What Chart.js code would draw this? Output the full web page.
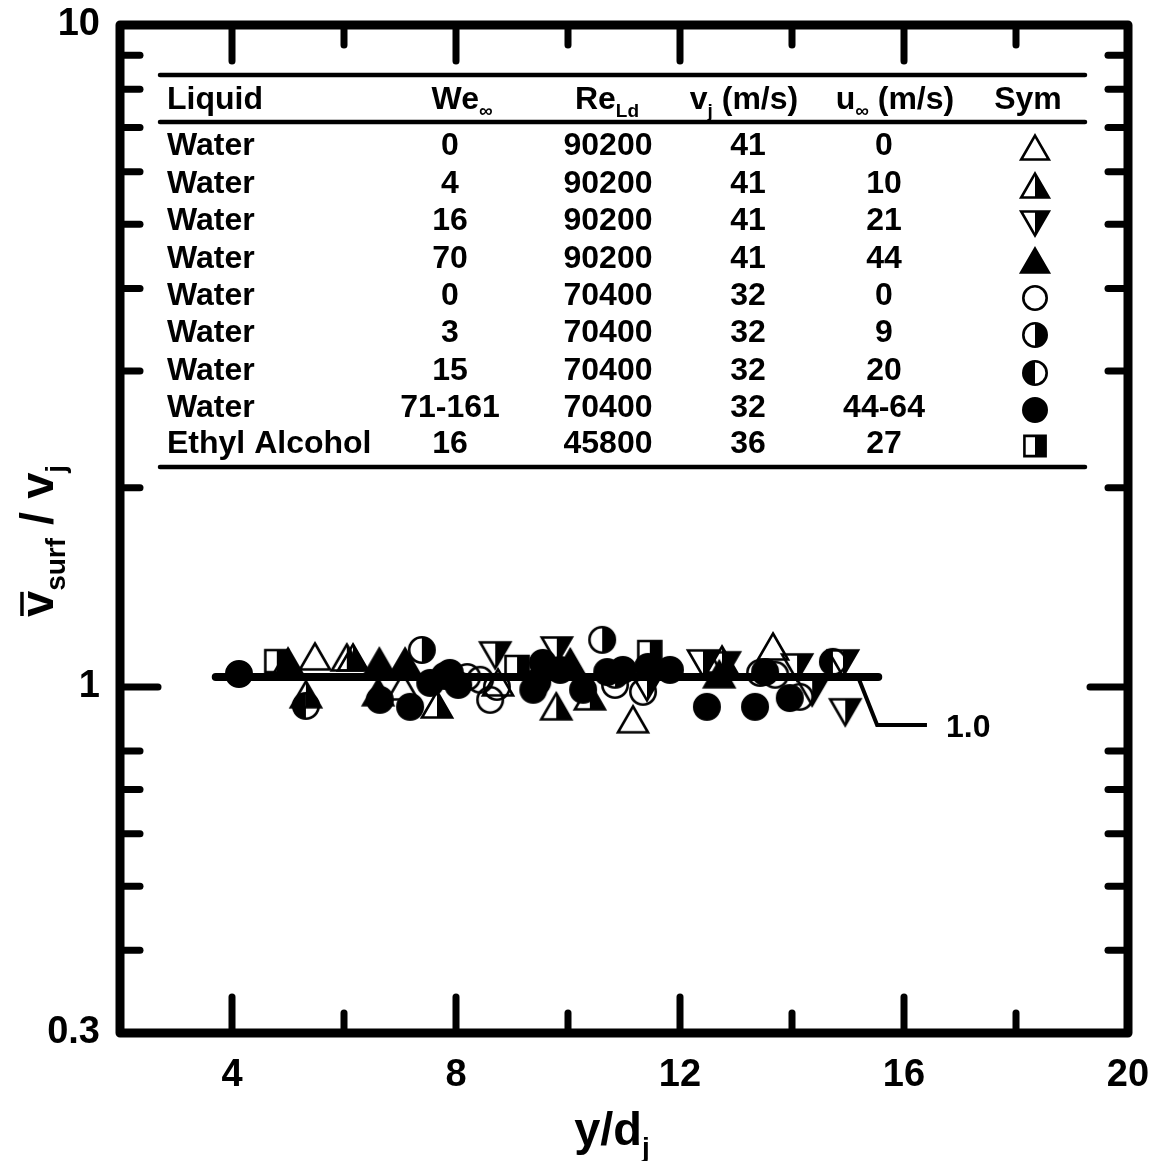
<!DOCTYPE html>
<html><head><meta charset="utf-8">
<script src="https://cdn.jsdelivr.net/npm/chart.js@4.4.1/dist/chart.umd.min.js"></script>
<style>html,body{margin:0;padding:0;background:#fff;}#wrap{width:1165px;height:1161px;}</style>
</head><body><div id="wrap"><canvas id="c" width="1165" height="1161"></canvas></div>
<script>
// ---- axis ticks ----
const xTickLabels = [4, 8, 12, 16, 20];
const yTickLabels = [0.3, 1, 10];
const xMajorTicks = [4, 8, 12, 16];
const xMinorTicks = [6, 10, 14, 18];
const yMajorTicks = [1];
const yMinorTicks = [0.4, 0.5, 0.6, 0.7, 0.8, 2, 3, 4, 5, 6, 7, 8, 9];

// ---- table ----
const liquids = ['Water','Water','Water','Water','Water','Water','Water','Water','Ethyl Alcohol'];
const weInf = ['0','4','16','70','0','3','15','71-161','16'];
const reLd = ['90200','90200','90200','90200','70400','70400','70400','70400','45800'];
const vjVals = ['41','41','41','41','32','32','32','32','36'];
const uInf = ['0','10','21','44','0','9','20','44-64','27'];
const symbolKinds = ['triUpOpen','triUpRight','triDownRight','triUpFilled','circOpen','circRight','circLeft','circFilled','sqRight'];

// ---- data series (x = y/dj, y = vsurf/vj) ----
const s1x = [5.48, 7.05, 8.75, 11.16, 13.66];
const s1y = [1.11, 1.00, 1.014, 0.892, 1.149];
const s2x = [5.00, 5.32, 6.05, 6.16, 7.66, 9.79, 10.39, 12.75];
const s2y = [1.09, 0.973, 1.106, 1.106, 0.939, 0.933, 0.966, 1.098];
const s3x = [8.70, 9.80, 11.41, 12.41, 12.80, 14.09, 14.36, 14.91, 14.95];
const s3y = [1.118, 1.137, 1.00, 1.087, 1.08, 1.072, 0.983, 1.087, 0.917];
const s4x = [6.63, 7.09, 6.61, 10.04, 12.7];
const s4y = [1.09, 1.09, 0.98, 1.087, 1.043];
const s5x = [8.20, 8.43, 8.61, 8.73, 10.84, 11.34, 13.43, 13.70, 14.14];
const s5y = [1.035, 1.025, 0.956, 1.00, 1.007, 0.983, 1.05, 1.043, 0.966];
const s6x = [7.39, 10.61, 10.84];
const s6y = [1.137, 1.178, 1.043];
const s7x = [5.32, 14.73];
const s7y = [0.936, 1.091];
const s8x = [4.125, 6.64, 7.18, 7.54, 7.80, 7.89, 8.04, 9.38, 9.45, 9.55, 9.86, 10.27, 10.70, 10.98, 11.43, 11.82, 12.48, 13.34, 13.52, 13.96];
const s8y = [1.046, 0.956, 0.933, 1.014, 1.039, 1.05, 1.007, 0.99, 1.017, 1.087, 1.061, 0.99, 1.053, 1.061, 1.072, 1.061, 0.933, 0.933, 1.053, 0.962];
const s9x = [4.80, 9.09, 11.46];
const s9y = [1.094, 1.072, 1.129];

const refLineX = [3.71, 15.54];
const refLineY = [1.035, 1.035];
const leaderX = [15.18, 15.52, 16.41];
const leaderY = [1.035, 0.876, 0.876];
const refLabel = '1.0';
const refLabelPos = [16.75, 0.876];

const FONT = '"Liberation Sans", Arial, Helvetica, sans-serif';

function makeSymbol(kind, k) {
  const c = document.createElement('canvas');
  c.width = 36; c.height = 36;
  const g = c.getContext('2d');
  g.strokeStyle = '#000'; g.fillStyle = '#000'; g.lineWidth = 2.6;
  g.translate(18, 18); g.scale(k, k);
  const path = new Path2D();
  if (kind.startsWith('tri')) {
    if (kind.includes('Down')) {
      path.moveTo(-15, -12.5); path.lineTo(15, -12.5); path.lineTo(0, 13.5); path.closePath();
    } else {
      path.moveTo(0, -13.5); path.lineTo(15, 12.5); path.lineTo(-15, 12.5); path.closePath();
    }
  } else if (kind.startsWith('circ')) {
    path.arc(0, 0, 12.7, 0, Math.PI * 2);
  } else {
    path.rect(-11.5, -11, 23, 22);
  }
  if (kind.endsWith('Filled')) {
    g.fill(path);
  } else if (kind.endsWith('Right') || kind.endsWith('Left')) {
    g.save();
    g.beginPath();
    if (kind.endsWith('Right')) g.rect(0, -18, 18, 36); else g.rect(-18, -18, 18, 36);
    g.clip();
    g.fill(path);
    g.restore();
  }
  g.lineWidth = 2.6 / k;
  g.stroke(path);
  return c;
}
const symImgs = symbolKinds.map(k => makeSymbol(k, 1));
const legendImgs = symbolKinds.map(k => makeSymbol(k, 0.92));

function pts(xs, ys) { return xs.map((x, i) => ({x: x, y: ys[i]})); }

const seriesX = [s1x, s2x, s3x, s4x, s5x, s6x, s7x, s8x, s9x];
const seriesY = [s1y, s2y, s3y, s4y, s5y, s6y, s7y, s8y, s9y];

const datasets = [
  {label: 'ref', data: pts(refLineX, refLineY), showLine: true, borderColor: '#000', borderWidth: 8,
   borderCapStyle: 'round', pointRadius: 0, order: 20},
  {label: 'leader', data: pts(leaderX, leaderY), showLine: true, borderColor: '#000', borderWidth: 4,
   borderJoinStyle: 'miter', pointRadius: 0, order: 19}
];
seriesX.forEach((xs, i) => {
  datasets.push({label: liquids[i] + ' We=' + weInf[i], data: pts(xs, seriesY[i]), showLine: false,
    pointStyle: symImgs[i], pointRadius: 14, order: 9 - i});
});

function drawRich(ctx, parts, x, y, align, size) {
  const mf = `bold ${size}px ${FONT}`;
  const sf = `bold ${Math.round(size * 0.6)}px ${FONT}`;
  let w = 0;
  const ws = parts.map(p => { ctx.font = p[1] ? sf : mf; const m = ctx.measureText(p[0]).width; w += m; return m; });
  let cx = align === 'center' ? x - w / 2 : (align === 'right' ? x - w : x);
  ctx.textAlign = 'left'; ctx.textBaseline = 'alphabetic';
  parts.forEach((p, i) => {
    ctx.font = p[1] ? sf : mf;
    ctx.fillText(p[0], cx, p[1] ? y + size * 0.25 : y);
    cx += ws[i];
  });
}

const decor = {
  id: 'decor',
  afterDraw(chart) {
    const ctx = chart.ctx, a = chart.chartArea;
    const xs = chart.scales.x, ys = chart.scales.y;
    ctx.save();
    ctx.fillStyle = '#000'; ctx.strokeStyle = '#000';
    // inward ticks
    ctx.lineCap = 'round'; ctx.lineWidth = 7;
    const tick = (x1, y1, x2, y2) => { ctx.beginPath(); ctx.moveTo(x1, y1); ctx.lineTo(x2, y2); ctx.stroke(); };
    xMajorTicks.forEach(v => { const p = xs.getPixelForValue(v); tick(p, a.bottom, p, a.bottom - 36); tick(p, a.top, p, a.top + 36); });
    xMinorTicks.forEach(v => { const p = xs.getPixelForValue(v); tick(p, a.bottom, p, a.bottom - 20); tick(p, a.top, p, a.top + 20); });
    yMajorTicks.forEach(v => { const p = ys.getPixelForValue(v); tick(a.left, p, a.left + 38, p); tick(a.right, p, a.right - 38, p); });
    yMinorTicks.forEach(v => { const p = ys.getPixelForValue(v); tick(a.left, p, a.left + 20, p); tick(a.right, p, a.right - 20, p); });
    // frame
    ctx.lineWidth = 9; ctx.lineJoin = 'round';
    ctx.strokeRect(a.left, a.top, a.right - a.left, a.bottom - a.top);

    // table
    ctx.lineWidth = 4.5; ctx.lineCap = 'round';
    [75, 122, 467].forEach(yy => tick(160, yy, 1085, yy));
    const fs = 32;
    const hy = 98 + 11;
    drawRich(ctx, [['Liquid']], 167, hy, 'left', fs);
    drawRich(ctx, [['We'], ['\u221E', 1]], 462, hy, 'center', fs);
    drawRich(ctx, [['Re'], ['Ld', 1]], 607, hy, 'center', fs);
    drawRich(ctx, [['v'], ['j', 1], [' (m/s)']], 744, hy, 'center', fs);
    drawRich(ctx, [['u'], ['\u221E', 1], [' (m/s)']], 895, hy, 'center', fs);
    drawRich(ctx, [['Sym']], 1028, hy, 'center', fs);
    const rowY = [144, 182, 219, 257, 294, 331, 369, 406, 442];
    liquids.forEach((lq, i) => {
      const by = rowY[i] + 11;
      drawRich(ctx, [[lq]], 167, by, 'left', fs);
      drawRich(ctx, [[weInf[i]]], 450, by, 'center', fs);
      drawRich(ctx, [[reLd[i]]], 608, by, 'center', fs);
      drawRich(ctx, [[vjVals[i]]], 748, by, 'center', fs);
      drawRich(ctx, [[uInf[i]]], 884, by, 'center', fs);
      ctx.drawImage(legendImgs[i], 1035 - 18, rowY[i] + 4 - 18);
    });

    // ref line label
    drawRich(ctx, [[refLabel]], xs.getPixelForValue(refLabelPos[0]), ys.getPixelForValue(refLabelPos[1]) + 12, 'left', 32);

    // x title
    drawRich(ctx, [['y/d'], ['j', 1]], 612, 1145, 'center', 47);
    // y title (rotated)
    ctx.save();
    ctx.translate(53, 617);
    ctx.rotate(-Math.PI / 2);
    const tf = 47;
    ctx.font = `bold ${tf}px ${FONT}`;
    const vw = ctx.measureText('v').width;
    drawRich(ctx, [['v'], ['surf', 1], [' / v'], ['j', 1]], 0, 0, 'left', tf);
    ctx.lineWidth = 3.5; ctx.lineCap = 'butt';
    ctx.beginPath(); ctx.moveTo(1, -tf * 0.66); ctx.lineTo(vw - 1, -tf * 0.66); ctx.stroke();
    ctx.restore();

    ctx.restore();
  }
};

new Chart(document.getElementById('c'), {
  type: 'scatter',
  data: {datasets: datasets},
  options: {
    responsive: false, animation: false, devicePixelRatio: 1,
    layout: {padding: {left: 0, top: 25, right: 37, bottom: 0}},
    plugins: {legend: {display: false}, tooltip: {enabled: false}},
    scales: {
      x: {
        type: 'linear', position: 'bottom', min: 2, max: 20,
        afterBuildTicks: s => { s.ticks = xTickLabels.map(v => ({value: v})); },
        afterFit: s => { s.height = 128; s.paddingLeft = 0; s.paddingRight = 0; },
        grid: {display: false, drawTicks: false}, border: {display: false},
        ticks: {color: '#000', padding: 20, maxRotation: 0, autoSkip: false,
                font: {family: FONT, size: 38, weight: 'bold'}, callback: v => String(v)}
      },
      y: {
        type: 'logarithmic', position: 'left', min: 0.3, max: 10,
        afterBuildTicks: s => { s.ticks = yTickLabels.map(v => ({value: v})); },
        afterFit: s => { s.width = 120; s.paddingTop = 0; s.paddingBottom = 0; },
        grid: {display: false, drawTicks: false}, border: {display: false},
        ticks: {color: '#000', padding: 20, autoSkip: false,
                font: {family: FONT, size: 38, weight: 'bold'}, callback: v => String(v)}
      }
    }
  },
  plugins: [decor]
});
</script></body></html>
